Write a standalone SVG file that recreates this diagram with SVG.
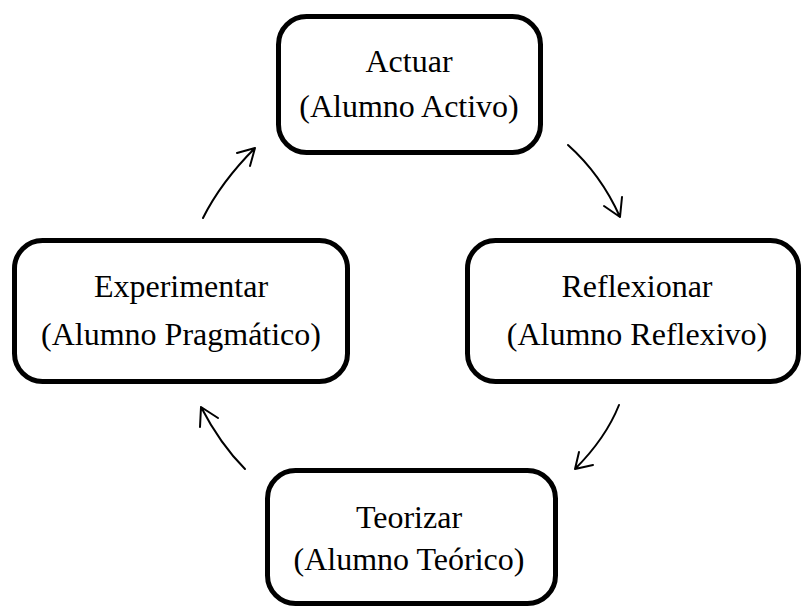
<svg xmlns="http://www.w3.org/2000/svg" width="803" height="606" viewBox="0 0 803 606">
<style>
.box{fill:#fff;stroke:#000;stroke-width:5}
.t{font-family:"Liberation Serif","Times New Roman",serif;font-size:32px;fill:#000;text-anchor:middle}
.c{fill:none;stroke:#000;stroke-width:2;stroke-linecap:round;stroke-linejoin:round}
</style>
<rect width="803" height="606" fill="#fff"/>
<g id="actuar">
<rect class="box" x="278.5" y="16.5" width="262" height="136" rx="28"/>
<text class="t" x="409" y="72">Actuar</text>
<text class="t" x="409" y="117">(Alumno Activo)</text>
</g>
<g id="reflexionar">
<rect class="box" x="467.5" y="240.5" width="331" height="141" rx="28"/>
<text class="t" x="637" y="297">Reflexionar</text>
<text class="t" x="637" y="345">(Alumno Reflexivo)</text>
</g>
<g id="teorizar">
<rect class="box" x="267.5" y="470.5" width="288" height="133" rx="28"/>
<text class="t" x="409" y="528">Teorizar</text>
<text class="t" x="409" y="570">(Alumno Teórico)</text>
</g>
<g id="experimentar">
<rect class="box" x="14.5" y="240.5" width="333" height="141" rx="28"/>
<text class="t" x="181" y="297">Experimentar</text>
<text class="t" x="181" y="345">(Alumno Pragmático)</text>
</g>
<g id="connectors">
<path class="c" d="M203 218 Q221 182 255 148 M237 153 L255 148 L250 166"/>
<path class="c" d="M568 145 Q601 174.5 620 217 M604 206 L620 217 L622 197"/>
<path class="c" d="M619 405 Q605.7 438.3 575 469 M579 452 L575 469 L593 465"/>
<path class="c" d="M245 469 Q220.2 444.2 201 407 M200 427 L201 407 L218 418"/>
</g>
</svg>
